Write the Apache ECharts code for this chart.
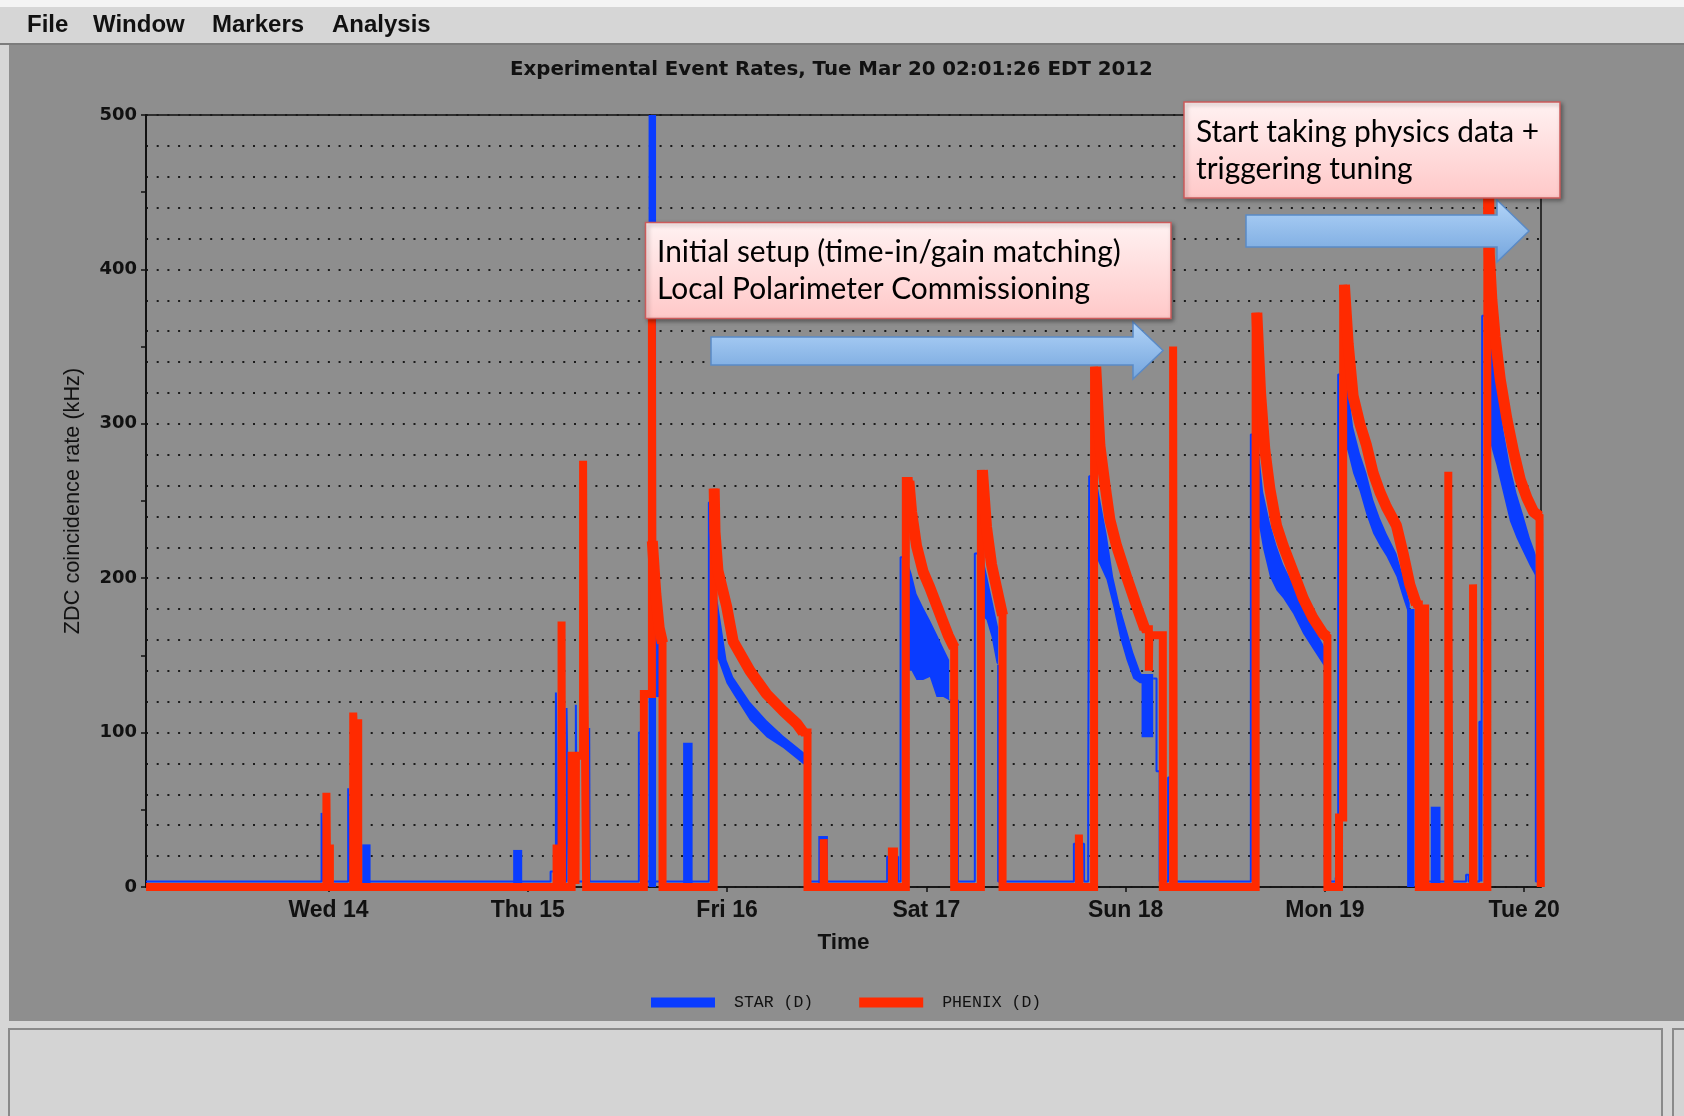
<!DOCTYPE html>
<html><head><meta charset="utf-8">
<script src="https://cdn.jsdelivr.net/npm/echarts@6/dist/echarts.min.js"></script>
<style>html,body{margin:0;padding:0;background:#d6d6d6;}#chart{width:1684px;height:1116px;}</style>
</head><body><div id="chart"></div>
<script>
// x values: hours since Tue 2012-03-13 00:00 EDT; y values: kHz
const titleText = 'Experimental Event Rates, Tue Mar 20 02:01:26 EDT 2012';
const xStart = 2.024, xEnd = 170.024;
const dayTicks = [24, 48, 72, 96, 120, 144, 168];
const dayLabels = ['Wed 14', 'Thu 15', 'Fri 16', 'Sat 17', 'Sun 18', 'Mon 19', 'Tue 20'];
const menuItems = ['File', 'Window', 'Markers', 'Analysis'];
const seriesNames = ['STAR (D)', 'PHENIX (D)'];
const note1 = ['Initial setup (time-in/gain matching)', 'Local Polarimeter Commissioning'];
const note2 = ['Start taking physics data +', 'triggering tuning'];

// PHENIX (D) rate, [hour, kHz]
const phenixRate = [
 [2.03,0],
 [23.75,0],[23.75,61],[23.81,61],[23.81,25],[24.17,25],[24.17,0],
 [26.98,0],[26.98,113],[27.02,113],[27.02,106],[27.58,106],[27.58,0],
 [51.47,0],[51.47,25],[52.07,25],[52.07,172],[52.12,172],[52.12,0],
 [53.28,0],[53.28,85],[53.75,85],[53.75,2],[53.8,2],[53.8,85],[54.66,85],[54.66,276],[54.7,276],[54.7,216],[54.88,216],[54.88,100],[55.03,100],[55.03,0],
 [61.98,0],[61.98,125],[62.95,125],[62.95,370],[63.0,370],[63.0,224],[63.42,190],[63.82,168],[64.23,158],[64.23,0],
 [70.39,0],[70.39,258],[70.45,258],[70.55,230],[70.9,205],[71.94,182],[72.74,159],[74.75,140],[76.76,125],[78.76,114],[80.37,106],[81.18,100],[81.69,100],[81.69,0],
 [83.64,0],[83.64,31],[83.7,31],[83.7,0],
 [91.85,0],[91.85,23],[92.1,23],[92.1,0],
 [93.53,0],[93.53,263],[93.9,263],[94.22,243],[94.82,221],[95.62,204],[96.42,194],[97.63,177],[98.63,163],[99.35,155],[99.35,0],
 [102.57,0],[102.57,270],[102.75,270],[103.25,233],[103.85,209],[104.45,194],[105.18,176],[105.18,0],
 [114.37,0],[114.37,34],[114.45,34],[114.45,0],
 [116.2,0],[116.2,337],[116.4,337],[116.9,286],[117.5,261],[118.1,238],[118.91,221],[120.11,201],[121.32,182],[122.32,167],[122.8,167],[122.8,140],[122.85,140],[122.85,163],[124.48,163],[124.48,0],
 [125.72,0],[125.72,350],[125.8,350],[125.8,0],
 [135.66,0],[135.66,372],[135.8,372],[136.25,320],[136.77,283],[137.37,258],[138.18,234],[138.97,221],[140.18,204],[141.38,187],[142.58,174],[143.79,164],[144.3,162],[144.3,0],
 [145.7,0],[145.7,45],[146.2,45],[146.2,390],[146.35,390],[146.8,352],[147.4,318],[148.21,300],[149.01,286],[149.81,268],[150.61,256],[151.42,246],[152.62,234],[153.42,216],[154.22,196],[155.03,183],[155.31,183],[155.31,0],[156.07,0],[156.07,183],[156.1,183],[156.1,0],
 [158.86,0],[158.86,269],[158.9,269],[158.9,151],[159.0,151],[159.0,0],
 [161.84,0],[161.84,196],[161.9,196],[161.9,0],
 [163.56,0],[163.56,460],[163.7,460],[163.8,410],[164.11,380],[164.51,356],[165.11,329],[165.92,303],[166.72,282],[167.52,264],[168.33,252],[169.13,243],[169.85,240],[170.0,240],[170.0,0]
];

// STAR (D) rate, thin trace, [hour, kHz]; null = trace continues inside a band below
const starRate = [
 [2.03,3.5],
 [23.17,3.5],[23.17,48],[23.4,48],[23.4,3.5],
 [26.37,3.5],[26.37,64],[26.6,64],[26.6,3.5],
 [50.75,3.5],[50.75,10],[51.39,10],[51.39,126],[51.6,126],[51.6,3.5],
 [52.67,3.5],[52.67,116],[52.8,116],[52.8,60],[53.0,60],[53.0,3.5],
 [53.79,3.5],[53.79,118],[53.9,118],[53.9,3.5],
 [55.4,3.5],[55.4,103],[55.45,103],[55.45,3.5],
 [61.38,3.5],[61.38,100],[62.2,100],[62.2,3.5],
 [69.81,3.5],[69.81,249],[70.45,249],[70.45,null],[81.4,83],[81.4,3.5],
 [91.28,3.5],[91.28,19.6],[92.6,19.6],[92.6,3.5],
 [92.9,3.5],[92.9,213.5],[93.6,213.5],[93.6,null],[98.8,121],[99.8,121],[99.8,3.5],
 [101.84,3.5],[101.84,216],[102.6,216],[102.6,null],[104.65,144],[104.65,3.5],
 [113.77,3.5],[113.77,28],[115.0,28],[115.0,3.5],
 [115.49,3.5],[115.49,52],[115.61,52],[115.61,266],[116.0,266],[116.0,null],[123.32,135],[123.72,135],[123.72,75],[124.1,75],[124.1,3.5],
 [125.12,3.5],[125.12,71],[125.5,71],[125.5,3.5],
 [135.08,3.5],[135.08,293],[135.7,293],[135.7,null],[144.0,145],[144.0,3.5],
 [145.3,3.5],[145.3,6],[145.6,6],[145.6,332],[146.3,332],[146.3,null],[154.8,3.5],
 [161.0,3.5],[161.0,8],[161.3,8],[161.3,3.5],
 [162.6,3.5],[162.6,107],[162.85,107],[162.85,3.5],
 [162.94,3.5],[162.94,370],[163.3,370],[163.3,null],[169.4,205],[169.4,3.5],[170.0,3.5]
];

// STAR (D) dense / noisy parts, [hour, upper kHz, lower kHz]
const starBlockWed = [[28.06,27.6,0],[29.07,27.6,0]];
const starBlockThu = [[46.24,24,0],[47.33,24,0]];
const starSpikeFri = [[62.55,500,0],[63.45,500,0]];
const starStepFri = [[63.45,164,123],[63.85,164,123]];
const starBlockFri = [[66.71,93.5,0],[67.85,93.5,0]];
const starBandFri = [[70.5,195,150],[70.93,183,147],[71.94,147,132],[72.74,136,125],[74.75,120,108],[76.76,108,97],[78.76,98,90],[80.37,91,83],[81.3,87,79]];
const starBlockFri2 = [[82.99,33,0],[84.15,33,0]];
const starBandSat1 = [[93.6,213,140],[94.22,203,140],[94.82,190,134],[95.62,181,134],[96.42,173,136],[97.23,164,123],[98.03,155,123],[98.75,147,121]];
const starBandSat2 = [[102.6,216,175],[102.84,213,175],[103.25,203,173],[103.85,188,162],[104.45,173,145],[104.65,168,144]];
const starBandSun = [[116.0,266,220],[116.69,258,211],[117.7,229,199],[118.5,201,182],[119.3,182,162],[120.11,167,147],[120.91,152,135],[121.71,140,132],[121.92,138,132],[121.92,138,97],[123.32,138,97]];
const starBandMon1 = [[135.7,293,240],[136.17,276,231],[136.56,256,219],[137.37,236,201],[138.18,221,192],[138.97,209,187],[140.18,196,177],[141.38,182,164],[142.58,169,154],[143.79,157,144],[144.2,152,141]];
const starBandMon2 = [[146.3,332,290],[146.8,323,281],[147.4,298,268],[148.21,281,256],[149.01,268,241],[149.81,251,229],[150.61,239,221],[151.42,229,214],[152.62,216,201],[153.42,201,187],[154.22,184,174]];
const starDropMon2 = [[153.9,180,0],[154.8,180,0]];
const starBlockMon = [[156.75,52,0],[157.92,52,0]];
const starBandTue = [[163.3,370,300],[164.19,350,282],[164.67,332,273],[165.47,297,255],[166.27,273,237],[167.08,255,226],[167.88,241,217],[168.68,226,208],[169.29,217,202],[169.4,215,200]];
const starBands = [starBlockWed, starBlockThu, starSpikeFri, starStepFri, starBlockFri, starBandFri, starBlockFri2,
  starBandSat1, starBandSat2, starBandSun, starBandMon1, starBandMon2, starDropMon2, starBlockMon, starBandTue];

const BLUE = '#0a3cff', RED = '#ff2a00', INK = '#111';

// the decaying (noisy) stretches of the PHENIX trace, taken from phenixRate: drawn a bit wider
const sloped = (a, b) => !!(a && b && a[0] !== b[0] && a[1] !== b[1] && a[1] > 0 && b[1] > 0);
const phenixNoisy = phenixRate.map((p, i) =>
  (sloped(phenixRate[i - 1], p) || sloped(p, phenixRate[i + 1])) ? p : [p[0], null]);

function fitSize(text, weight, family, target) {
  const c = document.createElement('canvas').getContext('2d');
  c.font = weight + ' 100px ' + family;
  return 100 * target / c.measureText(text).width;
}
const noteFamily = 'Lato';
const noteSize = fitSize(note1[0], 'normal', noteFamily, 464);
const titleSize = fitSize(titleText, 'bold', '"DejaVu Sans"', 643);

const pink = () => new echarts.graphic.LinearGradient(0, 0, 0, 1, [{offset: 0, color: '#fff2f2'}, {offset: 1, color: '#ffc8c8'}]);
const sky = () => new echarts.graphic.LinearGradient(0, 0, 0, 1, [{offset: 0, color: '#b2d4f8'}, {offset: 1, color: '#74a5dd'}]);
const boxShadow = {shadowBlur: 4, shadowOffsetX: 2, shadowOffsetY: 2, shadowColor: 'rgba(0,0,0,0.35)'};

const menuX = [27, 93, 212, 332];
const graphics = [
  {type: 'rect', shape: {x: 0, y: 0, width: 1684, height: 7}, style: {fill: '#f4f4f4'}},
  {type: 'rect', shape: {x: 0, y: 7, width: 1684, height: 37}, style: {fill: '#d6d6d6'}},
  {type: 'rect', shape: {x: 0, y: 43, width: 1684, height: 2}, style: {fill: '#7c7c7c'}},
  {type: 'rect', shape: {x: 0, y: 45, width: 9, height: 1071}, style: {fill: '#d6d6d6'}},
  {type: 'rect', shape: {x: 9, y: 1021, width: 1675, height: 95}, style: {fill: '#d6d6d6'}},
  {type: 'rect', shape: {x: 9, y: 1029, width: 1653, height: 90}, style: {fill: '#d4d4d4', stroke: '#8a8a8a', lineWidth: 2}},
  {type: 'rect', shape: {x: 1673, y: 1029, width: 14, height: 90}, style: {fill: '#d4d4d4', stroke: '#8a8a8a', lineWidth: 2}}
];
menuItems.forEach((m, i) => graphics.push({type: 'text', x: menuX[i], y: 25,
  style: {text: m, fontFamily: 'Liberation Sans', fontWeight: 'bold', fontSize: 24, fill: INK, verticalAlign: 'middle'}}));

// annotation boxes and arrows
graphics.push(
  {type: 'polygon', z: 100, shape: {points: [[711,337],[1133,337],[1133,322],[1163,350.5],[1133,379],[1133,365],[711,365]]},
   style: {fill: sky(), stroke: '#5a8ac6', lineWidth: 1.5}},
  {type: 'polygon', z: 100, shape: {points: [[1246,215],[1497,215],[1497,200],[1529,231],[1497,262],[1497,247],[1246,247]]},
   style: {fill: sky(), stroke: '#5a8ac6', lineWidth: 1.5}},
  {type: 'rect', z: 100, shape: {x: 645.5, y: 222.5, width: 525.5, height: 96},
   style: Object.assign({fill: pink(), stroke: '#cc5b5b', lineWidth: 1.5}, boxShadow)},
  {type: 'rect', z: 100, shape: {x: 1184, y: 102, width: 376, height: 96},
   style: Object.assign({fill: pink(), stroke: '#cc5b5b', lineWidth: 1.5}, boxShadow)}
);
note1.forEach((t, i) => graphics.push({type: 'text', z: 101, x: 657, y: 252.5 + i * 36.5,
  style: {text: t, fontFamily: noteFamily, fontSize: noteSize, fill: '#000', verticalAlign: 'middle'}}));
note2.forEach((t, i) => graphics.push({type: 'text', z: 101, x: 1196, y: 132.5 + i * 36.5,
  style: {text: t, fontFamily: noteFamily, fontSize: noteSize, fill: '#000', verticalAlign: 'middle'}}));

const chart = echarts.init(document.getElementById('chart'), null, {renderer: 'canvas'});
chart.setOption({
  animation: false,
  backgroundColor: '#8e8e8e',
  title: {text: titleText, left: 510, top: 60, padding: 0,
    textStyle: {fontFamily: 'DejaVu Sans', fontWeight: 'bold', fontSize: titleSize, color: INK}},
  legend: {data: seriesNames, left: 651, top: 994, padding: 0, itemWidth: 64, itemHeight: 10, itemGap: 46, icon: 'rect',
    textStyle: {fontFamily: 'Liberation Mono', fontSize: 16.5, color: INK, padding: [0, 0, 0, 14]}},
  grid: {left: 146, top: 115, width: 1395, height: 772, show: true, borderColor: INK, borderWidth: 1.5, backgroundColor: 'transparent'},
  xAxis: {
    type: 'value', min: xStart, max: xEnd,
    axisLine: {lineStyle: {color: INK, width: 1.5}},
    axisTick: {customValues: dayTicks, length: 5, lineStyle: {color: INK, width: 1.5}},
    axisLabel: {customValues: dayTicks, formatter: v => dayLabels[dayTicks.indexOf(v)], margin: 12, color: INK,
      fontFamily: 'Liberation Sans', fontWeight: 'bold', fontSize: 23},
    splitLine: {show: false},
    name: 'Time', nameLocation: 'middle', nameGap: 44,
    nameTextStyle: {fontFamily: 'Liberation Sans', fontWeight: 'bold', fontSize: 22.5, color: INK}
  },
  yAxis: [
    {type: 'value', min: 0, max: 500, interval: 50,
     axisLine: {show: true, lineStyle: {color: INK, width: 2}},
     axisTick: {show: true, length: 5, lineStyle: {color: INK, width: 1.5}},
     axisLabel: {formatter: v => (v % 100 === 0 ? String(v) : ''), margin: 9, color: INK,
       fontFamily: 'DejaVu Sans', fontWeight: 'bold', fontSize: 18},
     splitLine: {show: false},
     name: 'ZDC coincidence rate (kHz)', nameLocation: 'middle', nameGap: 62,
     nameTextStyle: {fontFamily: 'Liberation Sans', fontSize: 21.7, color: INK}},
    {type: 'value', min: 0, max: 500, interval: 20, position: 'right',
     axisLine: {show: false}, axisTick: {show: false}, axisLabel: {show: false},
     splitLine: {show: true, lineStyle: {color: '#1a1a1a', width: 2, type: [2, 8.7]}}}
  ],
  series: [
    {name: seriesNames[0], type: 'line', data: starRate, showSymbol: false, symbol: 'none', connectNulls: false,
     color: BLUE, lineStyle: {color: BLUE, width: 2}, z: 2},
    {name: seriesNames[0], type: 'custom', color: BLUE, z: 2,
     data: starBands.map((b, i) => [b[0][0], b[0][1], i]), encode: {x: 0, y: 1},
     renderItem: (params, api) => {
       const band = starBands[api.value(2)];
       const pts = band.map(p => api.coord([p[0], p[1]]))
         .concat(band.slice().reverse().map(p => api.coord([p[0], p[2]])));
       return {type: 'polygon', shape: {points: pts}, style: {fill: BLUE}};
     }},
    {name: seriesNames[1], type: 'line', data: phenixRate, showSymbol: false, symbol: 'none',
     color: RED, lineStyle: {color: RED, width: 8, join: 'miter', cap: 'butt'}, z: 3},
    {name: seriesNames[1], type: 'line', data: phenixNoisy, showSymbol: false, symbol: 'none', connectNulls: false,
     color: RED, lineStyle: {color: RED, width: 11, join: 'round', cap: 'butt'}, z: 3}
  ],
  graphic: graphics
});
</script></body></html>
